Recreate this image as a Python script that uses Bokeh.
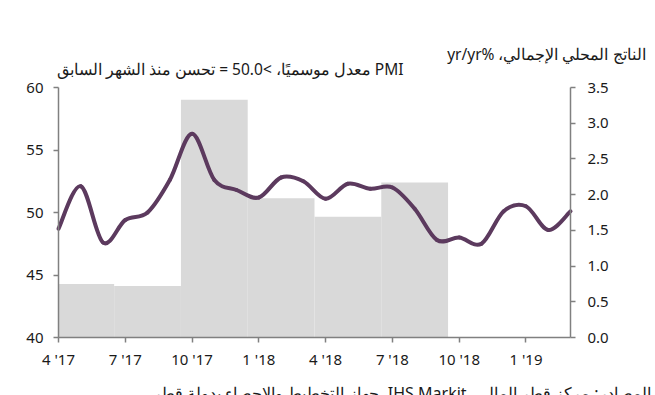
from bokeh.plotting import figure
from bokeh.models import (Range1d, LinearAxis, FixedTicker, ColumnDataSource,
                          NumeralTickFormatter)
from bokeh.core.properties import value
from bokeh.embed import file_html
from bokeh.resources import INLINE

# ---- data ----
month_index = list(range(24))  # Apr 2017 .. Mar 2019
pmi = [48.7, 52.1, 47.6, 49.4, 50.0, 52.6, 56.3, 52.6, 51.8, 51.2, 52.8, 52.5,
       51.1, 52.3, 51.9, 52.0, 50.3, 47.8, 48.0, 47.5, 50.1, 50.5, 48.6, 50.1]
gdp_mid_month = [1, 4, 7, 10, 13, 16]  # Q2'17 .. Q3'18
gdp = [0.75, 0.72, 3.33, 1.95, 1.69, 2.17]
pmi_ticks = [40, 45, 50, 55, 60]
gdp_ticks = [0, 0.5, 1, 1.5, 2, 2.5, 3, 3.5]
tick_months = [0, 3, 6, 9, 12, 15, 18, 21]
tick_labels = ["4 '17", "7 '17", "10 '17", "1 '18", "4 '18", "7 '18", "10 '18", "1 '19"]

left_title = "PMI معدل موسميًا، >50.0 = تحسن منذ الشهر السابق"
right_title = "الناتج المحلي الإجمالي، %yr/yr"
source_text = "المصادر: مركز قطر المالي، IHS Markit، جهاز التخطيط والاحصاء بدولة قطر"

RLE, PDF = "\u202b", "\u202c"

FONT = "Noto Sans"
LINE_COLOR = "#5c3a5e"
BAR_COLOR = "#d9d9d9"
AXIS_COLOR = "#808080"
TEXT_COLOR = "#1a1a1a"

# ---- layout (pixels) ----
W, H = 655, 395
FL, FR, FT, FB = 58, 570, 87, 337   # plotting area inside the canvas

x0, x1 = month_index[0], month_index[-1]
y0, y1 = pmi_ticks[0], pmi_ticks[-1]
g0, g1 = gdp_ticks[0], gdp_ticks[-1]
kx = (FR - FL) / (x1 - x0)
ky = (FB - FT) / (y1 - y0)
kg = (FB - FT) / (g1 - g0)


def dx(px):
    return x0 + (px - FL) / kx


def dy(py):
    return y0 + (FB - py) / ky


p = figure(width=W, height=H, output_backend="svg", toolbar_location=None,
           title_location=None,
           x_range=Range1d(dx(0), dx(W)), y_range=Range1d(dy(H), dy(0)),
           min_border=0, min_border_left=0, min_border_right=0,
           min_border_top=0, min_border_bottom=0)
p.extra_y_ranges = {"gdp": Range1d(g0 - (H - FB) / kg, g1 + FT / kg)}
p.outline_line_color = None
p.grid.visible = False
p.background_fill_color = "white"

# GDP bars (quarterly, centred mid-quarter; the first one starts with the data)
p.quad(left=[max(m - 1.5, x0) for m in gdp_mid_month],
       right=[m + 1.5 for m in gdp_mid_month],
       top=gdp, bottom=[0] * len(gdp), y_range_name="gdp",
       fill_color=BAR_COLOR, line_color=None)

# smoothed PMI line through the monthly points (Catmull-Rom -> cubic Bezier)
n = len(pmi)
xs = month_index
ys = pmi
seg = dict(x0=[], y0=[], x1=[], y1=[], cx0=[], cy0=[], cx1=[], cy1=[])
for i in range(n - 1):
    xm, ym = (xs[i - 1], ys[i - 1]) if i > 0 else (xs[i], ys[i])
    xp, yp = (xs[i + 2], ys[i + 2]) if i + 2 < n else (xs[i + 1], ys[i + 1])
    seg["x0"].append(xs[i]); seg["y0"].append(ys[i])
    seg["x1"].append(xs[i + 1]); seg["y1"].append(ys[i + 1])
    seg["cx0"].append(xs[i] + (xs[i + 1] - xm) / 6.0)
    seg["cy0"].append(ys[i] + (ys[i + 1] - ym) / 6.0)
    seg["cx1"].append(xs[i + 1] - (xp - xs[i]) / 6.0)
    seg["cy1"].append(ys[i + 1] - (yp - ys[i]) / 6.0)
p.bezier(x0="x0", y0="y0", x1="x1", y1="y1", cx0="cx0", cy0="cy0", cx1="cx1", cy1="cy1",
         source=ColumnDataSource(seg), line_color=LINE_COLOR, line_width=4, line_cap="round")


def style_axis(ax):
    ax.axis_line_color = AXIS_COLOR
    ax.axis_line_width = 1.5
    ax.major_tick_line_color = AXIS_COLOR
    ax.major_tick_line_width = 1.5
    ax.major_tick_in = 0
    ax.major_tick_out = 5
    ax.minor_tick_line_color = None
    ax.major_label_text_font = FONT
    ax.major_label_text_font_size = "15px"
    ax.major_label_text_color = TEXT_COLOR


# left axis (PMI)
ly = p.yaxis[0]
ly.ticker = FixedTicker(ticks=pmi_ticks)
ly.fixed_location = x0
ly.bounds = (y0, y1)
style_axis(ly)
ly.major_label_standoff = 10

# right axis (GDP)
ry = LinearAxis(y_range_name="gdp", ticker=FixedTicker(ticks=gdp_ticks),
                formatter=NumeralTickFormatter(format="0.0"),
                fixed_location=x1, bounds=(g0, g1))
style_axis(ry)
ry.major_label_standoff = 12
p.add_layout(ry, "right")

# bottom axis (months)
bx = p.xaxis[0]
bx.ticker = FixedTicker(ticks=tick_months)
bx.major_label_overrides = {m: l for m, l in zip(tick_months, tick_labels)}
bx.fixed_location = y0
bx.bounds = (x0, x1)
style_axis(bx)
bx.major_label_standoff = 6

# titles and source line
p.text(x=[dx(403)], y=[dy(68)], text=[RLE + left_title + PDF], text_align="right",
       text_baseline="middle", text_font=value(FONT), text_font_size="15.5px",
       text_color=TEXT_COLOR)
p.text(x=[dx(645)], y=[dy(53)], text=[RLE + right_title + PDF], text_align="right",
       text_baseline="middle", text_font=value(FONT), text_font_size="15.5px",
       text_color=TEXT_COLOR)
p.text(x=[dx(650)], y=[dy(392)], text=[RLE + source_text + PDF], text_align="right",
       text_baseline="alphabetic", text_font=value(FONT), text_font_size="16px",
       text_color=TEXT_COLOR)

open("out.html", "w").write(file_html(p, INLINE))
